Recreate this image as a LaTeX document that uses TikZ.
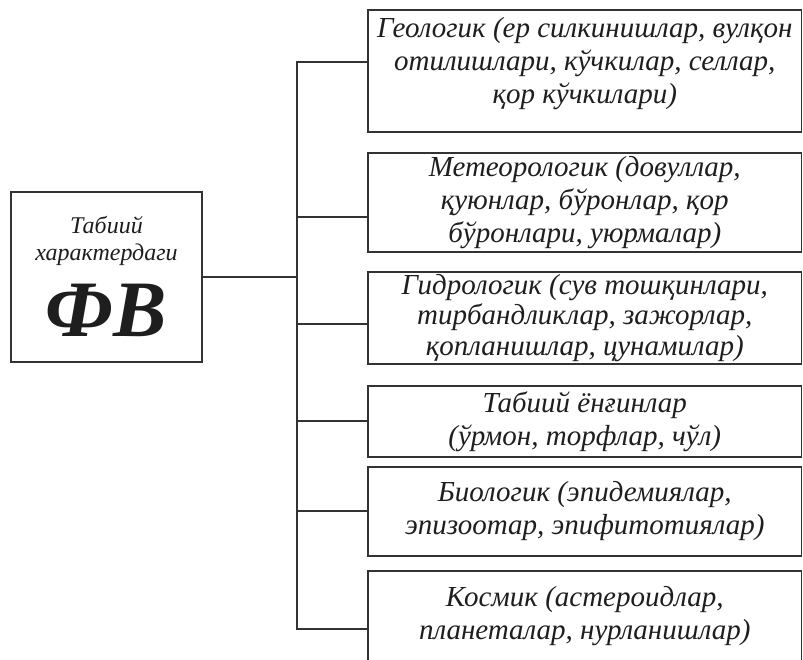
\documentclass[tikz,border=0pt]{standalone}
\usepackage{fontspec}
\setmainfont{Liberation Serif}
\definecolor{linegray}{HTML}{333333}
\definecolor{inkgray}{HTML}{1E1E1E}
\tikzset{
  typebox/.style={draw=linegray, line width=1.6pt, rectangle,
    minimum width=433.5pt, inner sep=0pt, align=center, text=inkgray,
    font=\fontsize{29}{33}\selectfont\itshape},
  branch/.style={draw=linegray, line width=1.6pt}
}
\begin{document}
\begin{tikzpicture}[x=1pt,y=-1pt]
    \useasboundingbox (0,0) rectangle (803,659);
    \fill[white] (0,0) rectangle (803,659);
    \clip (0,0) rectangle (803,659);

    % Source box
    \node[draw=linegray, line width=1.6pt, minimum width=191pt, minimum height=170pt,
      inner sep=0pt, text=inkgray, font=\fontsize{24}{27}\selectfont\itshape]
      (src) at (106.5,277)
      {\begin{tabular}{@{}c@{}}
         \rule{0pt}{24pt}Табиий\\
         характердаги\\[15pt]
         \fontsize{80}{80}\selectfont\bfseries\itshape ФВ
       \end{tabular}};

    % Types
    \node[typebox, minimum height=122pt, text depth=22pt] (geo) at (584.75,71)
      {Геологик (ер силкинишлар, вулқон\\отилишлари, кўчкилар, селлар,\\қор кўчкилари)};
    \node[typebox, minimum height=99pt] (met) at (584.75,202.5)
      {Метеорологик (довуллар,\\қуюнлар, бўронлар, қор\\бўронлари, уюрмалар)};
    \node[typebox, minimum height=92pt, font=\fontsize{29}{30.5}\selectfont\itshape]
      (hyd) at (584.75,318)
      {Гидрологик (сув тошқинлари,\\тирбандликлар, зажорлар,\\қопланишлар, цунамилар)};
    \node[typebox, minimum height=71pt] (fire) at (584.75,421.5)
      {Табиий ёнғинлар\\(ўрмон, торфлар, чўл)};
    \node[typebox, minimum height=89pt] (bio) at (584.75,511.5)
      {Биологик (эпидемиялар,\\эпизоотар, эпифитотиялар)};
    \node[typebox, minimum height=90pt] (cosm) at (584.75,616)
      {Космик (астероидлар,\\планеталар, нурланишлар)};

    % Trunk and branches
    \coordinate (jn) at (297,277);
    \coordinate (b1) at (297,62);
    \coordinate (b2) at (297,217);
    \coordinate (b3) at (297,324);
    \coordinate (b4) at (297,421);
    \coordinate (b5) at (297,511);
    \coordinate (b6) at (297,629);
    \draw[branch] (src.east) -- (jn);
    \draw[branch] (b1 -| geo.west) -- (b1) -- (b6) -- (b6 -| cosm.west);
    \foreach \b/\t in {b2/met, b3/hyd, b4/fire, b5/bio}
      \draw[branch] (\b) -- (\b -| \t.west);
\end{tikzpicture}
\end{document}
